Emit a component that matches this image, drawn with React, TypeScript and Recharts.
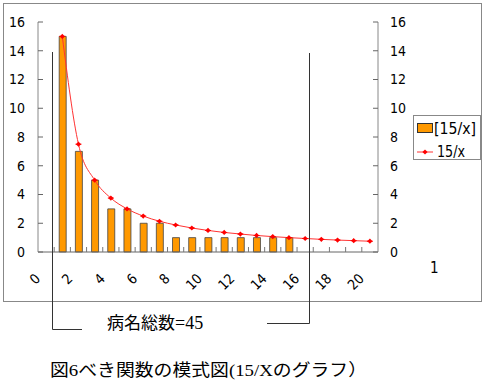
import React from 'react';
import { ComposedChart, Bar, Line, XAxis, YAxis } from 'recharts';

const xValues = [1, 2, 3, 4, 5, 6, 7, 8, 9, 10, 11, 12, 13, 14, 15, 16, 17, 18, 19, 20];
const barValues = [15, 7, 5, 3, 3, 2, 2, 1, 1, 1, 1, 1, 1, 1, 1];
const lineValues = [15, 7.5, 5, 3.75, 3, 2.5, 2.14, 1.88, 1.67, 1.5, 1.36, 1.25, 1.15, 1.07, 1, 0.94, 0.88, 0.83, 0.79, 0.75];
const yTicks = [0, 2, 4, 6, 8, 10, 12, 14, 16];
const xLabelTicks = [0, 2, 4, 6, 8, 10, 12, 14, 16, 18, 20];
const xBoundaryTicks = [0.5, 1.5, 2.5, 3.5, 4.5, 5.5, 6.5, 7.5, 8.5, 9.5, 10.5, 11.5, 12.5, 13.5, 14.5, 15.5, 16.5, 17.5, 18.5, 19.5];
const seriesNames = ['[15/x]', '15/x'];
const annotationText = '病名総数';
const annotationValue = '=45';
const captionParts = ['図', '6', 'べき関数の模式図', '(15/X', 'のグラフ）'];

const data = xValues.map((x, i) => ({ x, bar: barValues[i], line: lineValues[i] }));
const allXTicks = [...xLabelTicks, ...xBoundaryTicks].sort((a, b) => a - b);

const numFont = "'Liberation Sans Narrow', 'DejaVu Sans Condensed', 'Liberation Sans', sans-serif";
const cjkFont = "'Noto Sans CJK JP', sans-serif";
const serifFont = "'Liberation Serif', 'DejaVu Serif', serif";

const XTick = (props: any) => {
  const { x, y, payload } = props;
  const v = payload.value as number;
  if (Number.isInteger(v)) {
    const px = x - 5;
    const py = y + 27.5;
    return (
      <text x={px} y={py} transform={`rotate(-45 ${px} ${py})`} textAnchor="end" fontSize={14} fontFamily={numFont} fill="#000">
        {v}
      </text>
    );
  }
  return <line x1={x} x2={x} y1={y - 5} y2={y} stroke="#777" strokeWidth={1} />;
};

const StarDot = (props: any) => {
  const { cx, cy } = props;
  if (cx == null || cy == null) return null;
  return (
    <g>
      <path d={`M${cx - 2.6},${cy} L${cx},${cy - 2.6} L${cx + 2.6},${cy} L${cx},${cy + 2.6} Z`} fill="#FF0000" />
      <line x1={cx - 3} x2={cx + 3} y1={cy} y2={cy} stroke="#FF0000" strokeWidth={1} />
    </g>
  );
};

export default function App() {
  return (
    <div style={{ position: 'absolute', left: 0, top: 0, width: 486, height: 385, background: '#fff' }}>
      <div style={{ position: 'absolute', left: 0, top: 0 }}>
        <ComposedChart width={486} height={385} data={data} margin={{ top: 22, left: 8, right: 68, bottom: 103 }}>
          <XAxis
            dataKey="x"
            type="number"
            domain={[-0.5, 20.5]}
            ticks={allXTicks}
            interval={0}
            tick={<XTick />}
            tickLine={false}
            tickSize={0}
            tickMargin={0}
            height={30}
            axisLine={{ stroke: '#666' }}
          />
          <YAxis
            yAxisId="left"
            domain={[0, 16]}
            ticks={yTicks}
            interval={0}
            width={30}
            tickSize={-5}
            tickMargin={18}
            axisLine={{ stroke: '#888' }}
            tickLine={{ stroke: '#666' }}
            tick={{ fontSize: 14, fill: '#000', fontFamily: numFont }}
          />
          <YAxis
            yAxisId="right"
            orientation="right"
            domain={[0, 16]}
            ticks={yTicks}
            interval={0}
            width={40}
            tickSize={-5}
            tickMargin={17}
            axisLine={{ stroke: '#888' }}
            tickLine={{ stroke: '#666' }}
            tick={{ fontSize: 14, fill: '#000', fontFamily: numFont }}
          />
          <Bar yAxisId="left" dataKey="bar" name={seriesNames[0]} barSize={7} fill="#FF9900" stroke="#444" strokeWidth={0.8} isAnimationActive={false} />
          <Line yAxisId="right" dataKey="line" name={seriesNames[1]} type="monotone" stroke="#FF3333" strokeWidth={1} dot={<StarDot />} activeDot={false} isAnimationActive={false} />
        </ComposedChart>
      </div>
      <svg width={486} height={385} style={{ position: 'absolute', left: 0, top: 0, pointerEvents: 'none' }}>
        <rect x={3.5} y={3.5} width={478} height={298} fill="none" stroke="#888" strokeWidth={1} />
        {/* bracket */}
        <polyline points="52.5,52 52.5,329.5 82,329.5" fill="none" stroke="#333" strokeWidth={1} />
        <polyline points="309.5,53 309.5,323.5 267,323.5" fill="none" stroke="#333" strokeWidth={1} />
        {/* legend */}
        <rect x={413.5} y={115.5} width={67} height={44} fill="#fff" stroke="#888" strokeWidth={1} />
        <rect x={417.5} y={123.5} width={15} height={9} fill="#FF9900" stroke="#333" strokeWidth={1} />
        <text x={434} y={133.5} fontSize={15} fontFamily={numFont} fill="#000" textLength={42} lengthAdjust="spacingAndGlyphs">{seriesNames[0]}</text>
        <line x1={417} x2={433} y1={152} y2={152} stroke="#FF3333" strokeWidth={1} />
        <path d="M422.4,152 L425,149.4 L427.6,152 L425,154.6 Z" fill="#FF0000" />
        <text x={437} y={157} fontSize={15} fontFamily={numFont} fill="#000" textLength={28} lengthAdjust="spacingAndGlyphs">{seriesNames[1]}</text>
        {/* stray axis title */}
        <text x={430} y={273} fontSize={15} fontFamily={numFont} fill="#000">1</text>
        {/* annotation */}
        <text x={107} y={329} fontSize={17} fill="#000">
          <tspan fontFamily={cjkFont}>{annotationText}</tspan>
          <tspan fontFamily={serifFont} fontSize={18}>{annotationValue}</tspan>
        </text>
        {/* caption */}
        <text x={50} y={376} fontSize={17} fill="#000" textLength={317} lengthAdjust="spacingAndGlyphs">
          <tspan fontFamily={cjkFont}>{captionParts[0]}</tspan>
          <tspan fontFamily={serifFont}>{captionParts[1]}</tspan>
          <tspan fontFamily={cjkFont}>{captionParts[2]}</tspan>
          <tspan fontFamily={serifFont}>{captionParts[3]}</tspan>
          <tspan fontFamily={cjkFont}>{captionParts[4]}</tspan>
        </text>
      </svg>
    </div>
  );
}
